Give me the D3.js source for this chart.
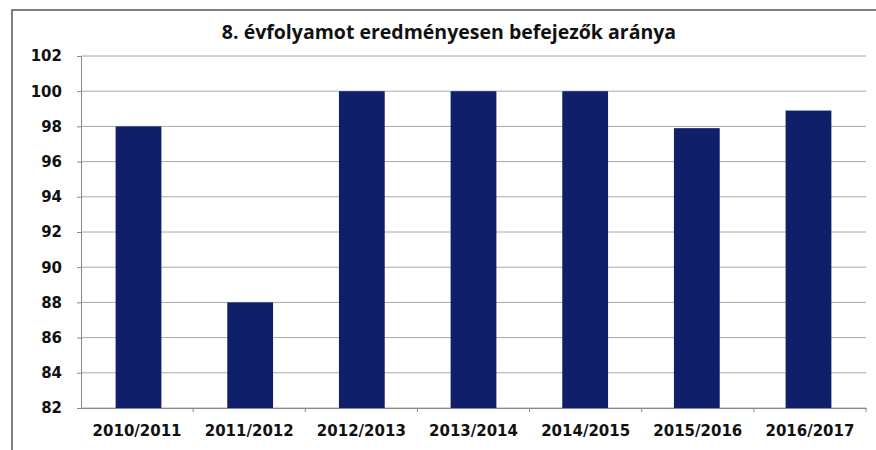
<!DOCTYPE html>
<html>
<head>
<meta charset="utf-8">
<style>
  body { margin: 0; background: #fff; }
  svg { display: block; }
</style>
</head>
<body>
<div id="chart"></div>
<script src="https://d3js.org/d3.v7.min.js"></script>
<script>
'use strict';

var title = '8. évfolyamot eredményesen befejezők aránya';
var years = ['2010/2011', '2011/2012', '2012/2013', '2013/2014', '2014/2015', '2015/2016', '2016/2017'];
var ratios = [98, 88, 100, 100, 100, 97.9, 98.9];
var yTicks = [82, 84, 86, 88, 90, 92, 94, 96, 98, 100, 102];

var W = 876, H = 450;
var m = { top: 56, right: 10, bottom: 42, left: 81 };

var svg = d3.select('#chart').append('svg')
  .attr('width', W).attr('height', H);

// frame of the scanned chart
svg.append('path')
  .attr('d', 'M12,450 L12,10 L876,10')
  .attr('fill', 'none')
  .attr('stroke', '#555')
  .attr('stroke-width', 1.5);

var x = d3.scaleBand().domain(years).range([m.left, W - m.right]).paddingInner(0.59).paddingOuter(0.31);
var xc = d3.scaleBand().domain(years).range([m.left, W - m.right]);
var y = d3.scaleLinear().domain([82, 102]).range([H - m.bottom, m.top]);

// gridlines
svg.append('g').selectAll('line').data(yTicks).enter().append('line')
  .attr('x1', m.left).attr('x2', W - m.right)
  .attr('y1', function(d) { return y(d); }).attr('y2', function(d) { return y(d); })
  .attr('stroke', '#a8a8a8').attr('stroke-width', 1);

// bars
svg.append('g').selectAll('rect').data(ratios).enter().append('rect')
  .attr('x', function(d, i) { return x(years[i]); })
  .attr('width', x.bandwidth())
  .attr('y', function(d) { return y(d); })
  .attr('height', function(d) { return y(82) - y(d); })
  .attr('fill', '#101f6a');

// y axis
var yAxis = svg.append('g')
  .attr('transform', 'translate(' + m.left + ',0)')
  .call(d3.axisLeft(y).tickValues(yTicks).tickSize(4).tickPadding(15).tickFormat(d3.format('d')));
yAxis.selectAll('text')
  .attr('font-family', 'DejaVu Sans').attr('font-weight', 'bold').attr('font-size', 15).attr('fill', '#111');
yAxis.selectAll('line, path').attr('stroke', '#888');

// x axis
var xAxis = svg.append('g')
  .attr('transform', 'translate(0,' + y(82) + ')')
  .call(d3.axisBottom(xc).tickSize(0).tickPadding(17));
xAxis.select('.domain').attr('stroke', '#888');
xAxis.selectAll('text')
  .attr('font-family', 'DejaVu Sans').attr('font-weight', 'bold').attr('font-size', 15).attr('fill', '#111');
xAxis.selectAll('.sep').data(years).enter().append('line')
  .attr('class', 'sep')
  .attr('x1', function(d) { return xc(d) + xc.bandwidth(); })
  .attr('x2', function(d) { return xc(d) + xc.bandwidth(); })
  .attr('y1', 0).attr('y2', 4)
  .attr('stroke', '#888');

// title
svg.append('text')
  .attr('x', 449).attr('y', 39)
  .attr('text-anchor', 'middle')
  .attr('font-family', 'Open Sans').attr('font-weight', 'bold').attr('font-size', 19.5)
  .attr('fill', '#111')
  .text(title);
</script>
</body>
</html>
